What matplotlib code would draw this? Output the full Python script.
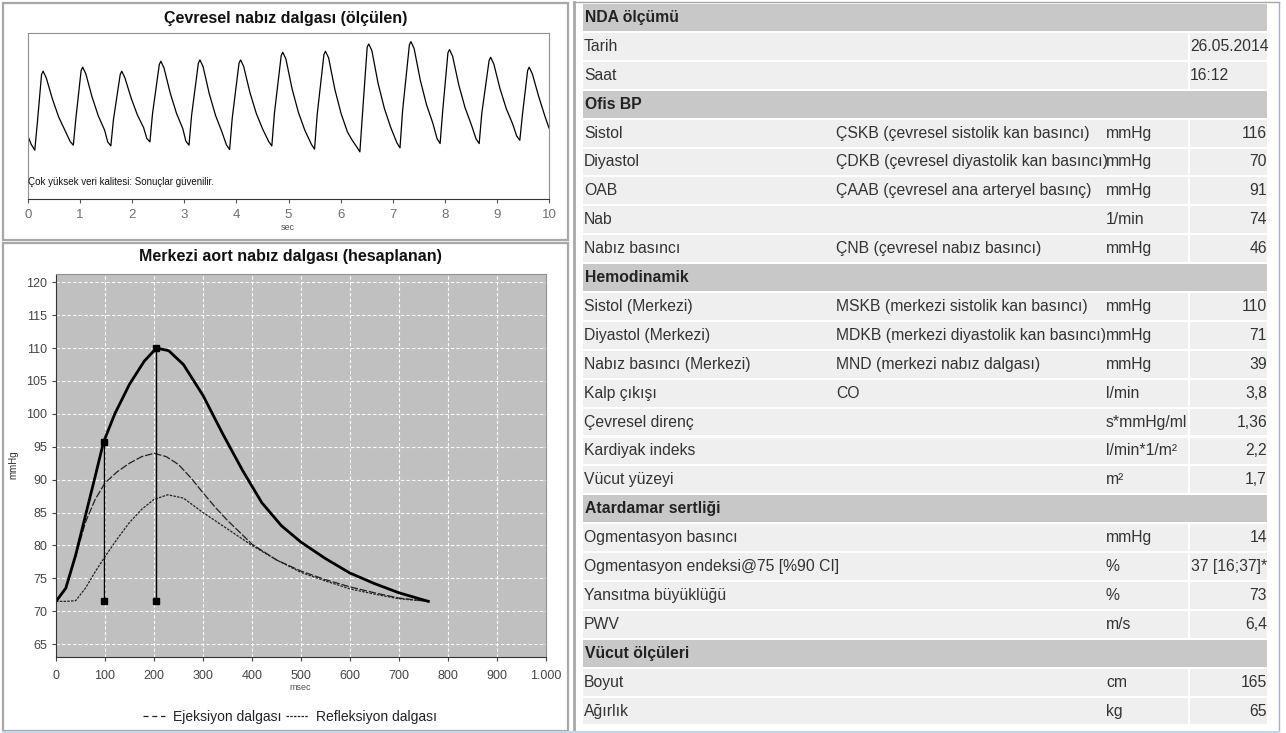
import matplotlib
matplotlib.use("Agg")
import matplotlib.pyplot as plt
from matplotlib.patches import Rectangle
from matplotlib.lines import Line2D

plt.rcParams['font.family'] = ['Liberation Sans', 'DejaVu Sans']

pulse_t = [0.0, 0.06, 0.13, 0.18, 0.26, 0.29, 0.35, 0.47, 0.59, 0.71, 0.81,
           0.87, 0.92, 1.02, 1.05, 1.11, 1.23, 1.35, 1.47, 1.53,
           1.59, 1.64, 1.77, 1.80, 1.86, 1.98, 2.10, 2.22, 2.28,
           2.34, 2.39, 2.52, 2.55, 2.61, 2.73, 2.85, 2.97, 3.03,
           3.09, 3.14, 3.27, 3.30, 3.36, 3.48, 3.60, 3.72, 3.81,
           3.87, 3.92, 4.05, 4.08, 4.14, 4.26, 4.38, 4.50, 4.62,
           4.68, 4.73, 4.86, 4.89, 4.95, 5.07, 5.19, 5.31, 5.44,
           5.50, 5.55, 5.68, 5.71, 5.77, 5.89, 6.01, 6.13, 6.22, 6.31,
           6.37, 6.42, 6.51, 6.54, 6.60, 6.72, 6.84, 6.96, 7.08,
           7.14, 7.19, 7.32, 7.35, 7.41, 7.53, 7.65, 7.77, 7.85,
           7.91, 7.96, 8.06, 8.09, 8.15, 8.27, 8.39, 8.51, 8.60,
           8.66, 8.71, 8.85, 8.88, 8.94, 9.06, 9.18, 9.30, 9.38,
           9.44, 9.49, 9.59, 9.62, 9.68, 9.80, 9.92, 10.0]
pulse_v = [37.8, 33.0, 29.4, 46.1, 75.0, 77.0, 73.0, 60.1, 49.3, 41.3, 34.6,
           32.4, 48.9, 77.4, 79.4, 75.4, 61.4, 50.0, 41.5, 34.4,
           32.0, 47.8, 75.0, 77.0, 73.0, 60.8, 50.6, 42.9, 36.5,
           34.4, 51.4, 81.0, 83.0, 79.0, 63.8, 51.6, 42.5, 34.9,
           32.4, 50.4, 81.8, 83.8, 79.8, 63.3, 50.3, 40.6, 32.5,
           29.8, 48.7, 81.8, 83.8, 79.8, 64.1, 51.7, 42.4, 34.6,
           32.0, 51.7, 86.4, 88.4, 84.4, 66.2, 52.2, 41.7, 32.9,
           30.0, 50.7, 87.0, 89.0, 85.0, 66.0, 51.4, 40.5, 35.5, 31.4,
           28.4, 51.2, 91.4, 93.4, 89.4, 69.6, 54.6, 43.3, 33.9,
           30.8, 53.2, 92.8, 94.8, 90.8, 71.5, 56.7, 45.7, 36.5,
           33.4, 53.2, 88.0, 90.0, 86.0, 68.5, 54.9, 44.7, 36.2,
           33.4, 51.6, 83.4, 85.4, 81.4, 66.4, 54.4, 45.4, 37.9,
           35.4, 50.8, 77.4, 79.4, 75.4, 62.0, 50.0, 42.8]
pulse_ticks = [0, 1, 2, 3, 4, 5, 6, 7, 8, 9, 10]

# ---- bottom chart: central aortic wave (msec, mmHg)
aort_ms = [0, 20, 40, 60, 80, 97, 120, 150, 180, 205, 230, 260, 300, 340,
           380, 420, 460, 500, 550, 600, 650, 700, 760]
aort_mmhg = [71.5, 73.5, 78.5, 84.5, 90.5, 95.7, 100.0, 104.5, 108.0, 110.0,
             109.6, 107.5, 102.8, 97.0, 91.5, 86.5, 83.0, 80.5, 78.0, 75.8,
             74.2, 72.8, 71.5]
ejek_ms = [0, 20, 40, 60, 80, 100, 125, 150, 175, 200, 225, 250, 275, 300,
           325, 350, 400, 450, 500, 550, 600, 650, 700, 760]
ejek_mmhg = [71.5, 73.5, 78.3, 83.5, 87.0, 89.5, 91.2, 92.5, 93.5, 94.0, 93.5,
             92.3, 90.3, 88.0, 85.8, 83.8, 80.2, 77.8, 76.1, 74.8, 73.7, 72.8,
             72.0, 71.5]
refl_ms = [0, 20, 40, 60, 80, 100, 125, 150, 175, 200, 228, 260, 300, 350,
           400, 450, 500, 550, 600, 650, 700, 760]
refl_mmhg = [71.5, 71.5, 71.6, 73.5, 76.0, 78.3, 81.0, 83.5, 85.5, 87.0, 87.7,
             87.2, 85.0, 82.5, 80.0, 77.8, 75.9, 74.6, 73.4, 72.6, 71.9, 71.5]
mark_ms = [97, 205]
mark_top = [95.7, 110.0]
mark_base = 71.5

# ---- table on the right
row_kind = ['h', 'd', 'd', 'h', 'd', 'd', 'd', 'd', 'd', 'h', 'd', 'd', 'd',
            'd', 'd', 'd', 'd', 'h', 'd', 'd', 'd', 'd', 'h', 'd', 'd']
row_label = ['NDA ölçümü', 'Tarih', 'Saat', 'Ofis BP', 'Sistol', 'Diyastol',
             'OAB', 'Nab', 'Nabız basıncı', 'Hemodinamik', 'Sistol (Merkezi)',
             'Diyastol (Merkezi)', 'Nabız basıncı (Merkezi)', 'Kalp çıkışı',
             'Çevresel direnç', 'Kardiyak indeks', 'Vücut yüzeyi',
             'Atardamar sertliği', 'Ogmentasyon basıncı',
             'Ogmentasyon endeksi@75 [%90 CI]', 'Yansıtma büyüklüğü', 'PWV',
             'Vücut ölçüleri', 'Boyut', 'Ağırlık']
row_desc = ['', '', '', '', 'ÇSKB (çevresel sistolik kan basıncı)',
            'ÇDKB (çevresel diyastolik kan basıncı)',
            'ÇAAB (çevresel ana arteryel basınç)', '',
            'ÇNB (çevresel nabız basıncı)', '',
            'MSKB (merkezi sistolik kan basıncı)',
            'MDKB (merkezi diyastolik kan basıncı)',
            'MND (merkezi nabız dalgası)', 'CO', '', '', '', '', '', '', '',
            '', '', '', '']
row_unit = ['', '', '', '', 'mmHg', 'mmHg', 'mmHg', '1/min', 'mmHg', '',
            'mmHg', 'mmHg', 'mmHg', 'l/min', 's*mmHg/ml', 'l/min*1/m²', 'm²',
            '', 'mmHg', '%', '%', 'm/s', '', 'cm', 'kg']
row_value = ['', '26.05.2014', '16:12', '', '116', '70', '91', '74', '46', '',
             '110', '71', '39', '3,8', '1,36', '2,2', '1,7', '', '14',
             '37 [16;37]*', '73', '6,4', '', '165', '65']

W, H = 1286, 733
fig = plt.figure(figsize=(W / 100, H / 100), dpi=100)


def px_axes(l, t, r, b, **kw):
    return fig.add_axes([l / W, 1 - b / H, (r - l) / W, (b - t) / H], **kw)


# background axes in pixel units for frames, titles and the table
bg = fig.add_axes([0, 0, 1, 1], zorder=-1)
bg.set_xlim(0, W)
bg.set_ylim(H, 0)
bg.axis('off')

# panel frames
for (l, t, r, b) in [(3, 3, 568, 240), (3, 243, 568, 731)]:
    bg.add_patch(Rectangle((l, t), r - l, b - t, fill=False, ec='#a8a8a8', lw=1.6))
bg.plot([574, 574], [2, 731], color='#a8a8a8', lw=2)
bg.plot([574, 1279], [2, 2], color='#a8a8a8', lw=1)
bg.plot([1279, 1279], [2, 731], color='#9fb4cc', lw=1)
bg.plot([3, 1279], [731.5, 731.5], color='#c5d6ea', lw=1.5)

# ---- top chart
bg.text(286, 18, 'Çevresel nabız dalgası (ölçülen)', ha='center', va='center',
        fontsize=11.5, fontweight='bold', color='#111111')
ax1 = px_axes(28, 33, 549, 199)
ax1.plot(pulse_t, pulse_v, color='black', lw=0.9)
ax1.set_xlim(0, 10)
ax1.set_ylim(0, 100)
ax1.set_yticks([])
ax1.set_xticks(pulse_ticks)
ax1.tick_params(axis='x', labelsize=9.5, labelcolor='#707070', length=3,
                color='#555555', pad=4)
for s in ax1.spines.values():
    s.set_color('#909090')
    s.set_linewidth(0.8)
ax1.spines['bottom'].set_color('#333333')
ax1.text(0.0, 10.5, 'Çok yüksek veri kalitesi: Sonuçlar güvenilir.',
         fontsize=7, color='#111111', va='center')
bg.text(288, 227, 'sec', ha='center', va='center', fontsize=6.5, color='#555555')

# ---- bottom chart
bg.text(290, 257, 'Merkezi aort nabız dalgası (hesaplanan)', ha='center',
        va='center', fontsize=11.5, fontweight='bold', color='#111111')
ax2 = px_axes(56, 273.7, 546, 657.3)
ax2.set_facecolor('#c0c0c0')
ax2.set_xlim(0, 1000)
ax2.set_ylim(63, 121.3)
ax2.set_xticks(range(0, 1001, 100))
ax2.set_xticklabels(['0', '100', '200', '300', '400', '500', '600', '700',
                     '800', '900', '1.000'])
ax2.set_yticks(range(65, 121, 5))
ax2.grid(True, color='white', lw=0.8, ls=(0, (3, 2)))
ax2.set_axisbelow(True)
ax2.tick_params(labelsize=9, labelcolor='#444444', length=3, color='#444444')
ax2.tick_params(axis='x', pad=6)
for s in ax2.spines.values():
    s.set_color('#909090')
ax2.spines['left'].set_color('#333333')
ax2.spines['bottom'].set_color('#333333')

ax2.plot(ejek_ms, ejek_mmhg, color='#222222', lw=0.9, ls=(0, (6, 1.5)),
         label='Ejeksiyon dalgası')
ax2.plot(refl_ms, refl_mmhg, color='#222222', lw=0.9, ls=(0, (2, 1)),
         label='Refleksiyon dalgası')
ax2.plot(aort_ms, aort_mmhg, color='black', lw=2.0)
for m, top in zip(mark_ms, mark_top):
    ax2.plot([m, m], [mark_base, top], color='black', lw=1.0)
    ax2.plot([m, m], [mark_base, top], ls='none', marker='s', ms=4.5,
             color='black')

bg.text(13, 465, 'mmHg', rotation=90, ha='center', va='center', fontsize=7,
        color='#333333')
bg.text(300, 688, 'msec', ha='center', va='center', fontsize=6.5,
        color='#555555')
handles = [Line2D([], [], color='#222222', lw=0.9, ls=(0, (4, 3))),
           Line2D([], [], color='#222222', lw=0.9, ls=(0, (2, 1)))]
fig.legend(handles, ['Ejeksiyon dalgası', 'Refleksiyon dalgası'], ncol=2,
           loc='center', bbox_to_anchor=(290 / W, 1 - 717 / H), frameon=False,
           fontsize=10, handlelength=1.6, handletextpad=0.6,
           columnspacing=0.3, labelcolor='#222222')

# ---- table
fs = 11.3
top0 = 4.0
pitch = 28.9
for i, kind in enumerate(row_kind):
    y0 = top0 + i * pitch
    h = pitch - 2
    yc = y0 + h / 2
    if kind == 'h':
        bg.add_patch(Rectangle((583, y0), 1267 - 583, h, color='#c8c8c8', lw=0))
        bg.text(585, yc, row_label[i], fontsize=fs, fontweight='bold',
                va='center', color='#222222')
        continue
    bg.add_patch(Rectangle((583, y0), 1188 - 583, h, color='#efefef', lw=0))
    bg.add_patch(Rectangle((1190, y0), 1267 - 1190, h, color='#efefef', lw=0))
    bg.text(584, yc, row_label[i], fontsize=fs, va='center', color='#333333')
    bg.text(836, yc, row_desc[i], fontsize=fs, va='center', color='#333333')
    bg.text(1106, yc, row_unit[i], fontsize=fs, va='center', color='#333333')
    if '.' in row_value[i] or ':' in row_value[i]:
        bg.text(1190, yc, row_value[i], fontsize=fs, va='center', color='#333333')
    else:
        bg.text(1267, yc, row_value[i], fontsize=fs, va='center', ha='right',
                color='#333333')

fig.savefig('out.png', dpi=100)
